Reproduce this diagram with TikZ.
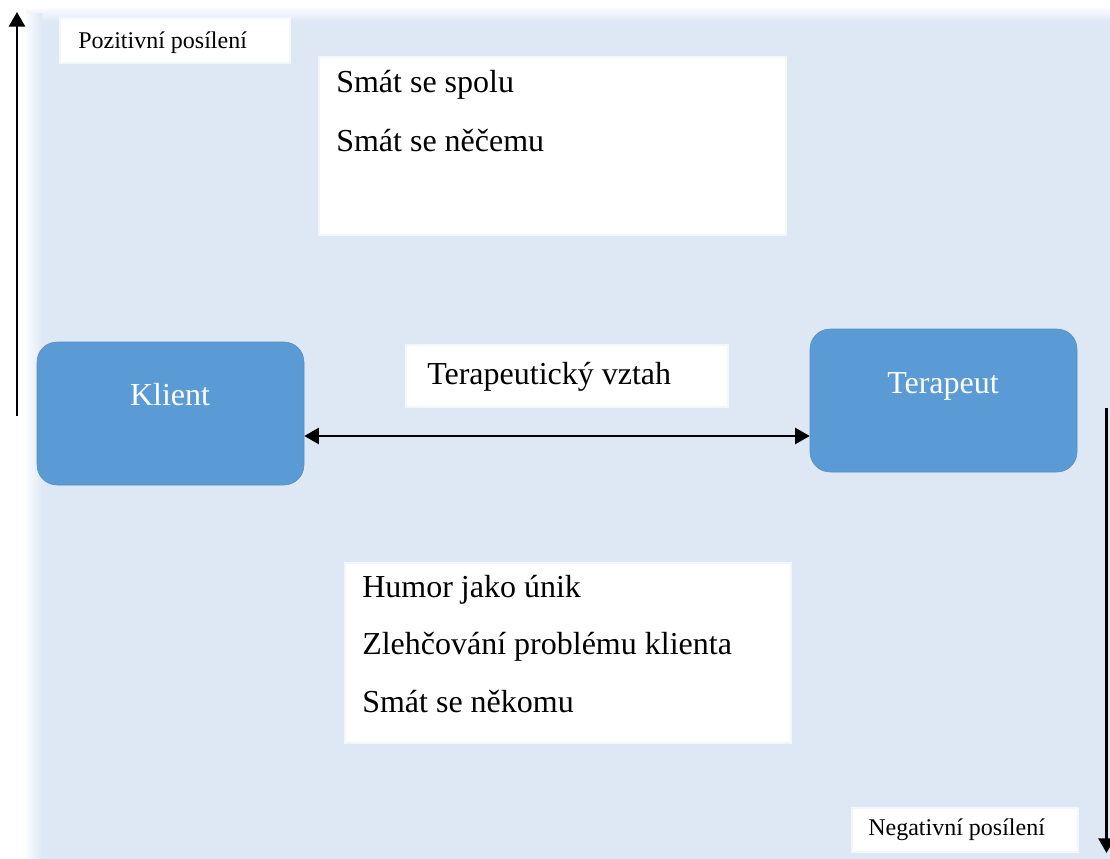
\documentclass[tikz,border=0pt]{standalone}
\usepackage{fontspec}
\setmainfont{Liberation Serif}
\usetikzlibrary{arrows.meta}
\definecolor{bgblue}{HTML}{DDE8F4}
\definecolor{boxblue}{HTML}{5B9BD5}
\begin{document}
\begin{tikzpicture}[x=0.75pt,y=-0.75pt,
  wbox/.style={fill=white, draw=white!65!bgblue, line width=1.5pt},
  bluebox/.style={fill=boxblue, draw=boxblue!92!black, line width=0.4pt, rounded corners=15pt},
  bigtext/.style={anchor=base west, inner sep=0pt, font=\fontsize{24}{28}\selectfont},
  smalltext/.style={anchor=base west, inner sep=0pt, font=\fontsize{18}{21}\selectfont},
  conn/.style={line width=2.1pt, black},
  tip/.style={-{Triangle[length=11pt,width=12pt]}}
]
\useasboundingbox (0,0) rectangle (1110,859);
\fill[white] (0,0) rectangle (1110,859);
\fill[bgblue] (26,6) rectangle (1110,859);
\shade[top color=white,bottom color=bgblue] (26,6) rectangle (1110,22);
\shade[left color=white,right color=bgblue] (24,14) rectangle (42,859);

% boxes
\path[wbox] (60,18) rectangle (290,63);
\path[wbox] (319,57) rectangle (786,235);
\path[wbox] (406,345) rectangle (728,407);
\path[wbox] (345,563) rectangle (791,743);
\path[wbox] (852,808) rectangle (1078,852);

\node[bluebox, minimum width=200.25pt, minimum height=107.25pt] (klient) at (170.5,413.5) {};
\node[bluebox, minimum width=200.25pt, minimum height=107.25pt] (terapeut) at (943.5,400.5) {};

% texts
\node[smalltext] (pozit) at (78,49) {Pozitivní posílení};
\node[bigtext] (p1) at (336,93) {Smát se spolu};
\node[bigtext] (p2) at (336,152) {Smát se něčemu};
\node[bigtext] (vztah) at (427,384) {Terapeutický vztah};
\node[anchor=base, inner sep=0pt, white, font=\fontsize{24}{28}\selectfont] (klientt) at (170,405) {Klient};
\node[anchor=base, inner sep=0pt, white, font=\fontsize{24}{28}\selectfont] (terapeutt) at (943,393) {Terapeut};
\node[bigtext] (n1) at (362,597) {Humor jako únik};
\node[bigtext] (n2) at (362,654) {Zlehčování problému klienta};
\node[bigtext] (n3) at (362,712) {Smát se někomu};
\node[smalltext] (negat) at (868,835) {Negativní posílení};

% connectors
\coordinate (ay) at (0,436);
\draw[conn, {Triangle[length=11pt,width=12pt]}-{Triangle[length=11pt,width=12pt]}] (klient.east |- ay) -- (terapeut.west |- ay);
\coordinate (lb) at (17,416);
\coordinate (lt) at (17,12);
\draw[conn, tip] (lb) -- (lt);
\coordinate (rt) at (1106.5,408);
\coordinate (rb) at (1106.5,853);
\draw[conn, tip] (rt) -- (rb);
\end{tikzpicture}
\end{document}
